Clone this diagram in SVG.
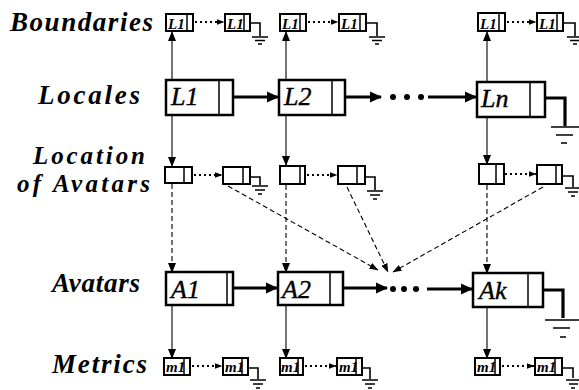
<svg xmlns="http://www.w3.org/2000/svg" width="579" height="390" viewBox="0 0 579 390">
  <style>
    .label { font-family: "Liberation Serif", "Times New Roman", serif; font-style: italic; font-weight: bold; font-size: 27px; fill: #000; }
    .label2 { font-size: 25px; }
    .big { fill: #fff; stroke: #000; stroke-width: 2.5; }
    .small { fill: #fff; stroke: #000; stroke-width: 2; }
    .div { stroke: #000; stroke-width: 1.5; fill: none; }
    .bigtxt { font-family: "Liberation Serif", "Times New Roman", serif; font-style: italic; font-size: 26px; fill: #000; stroke: #000; stroke-width: 0.4; }
    .smtxt { font-family: "Liberation Serif", "Times New Roman", serif; font-style: italic; font-weight: bold; font-size: 15px; fill: #000; }
    .thin { stroke: #000; stroke-width: 1.1; fill: none; }
    .thick { stroke: #000; stroke-width: 3.2; fill: none; }
    .dotted { stroke: #000; stroke-width: 2; fill: none; stroke-dasharray: 2 3; }
    .dashed { stroke: #000; stroke-width: 1.1; fill: none; stroke-dasharray: 5 3; }
    .gnd { stroke: #000; stroke-width: 1.6; fill: none; }
    .dot { fill: #000; }
  </style>
  <defs>
    <marker id="headThin" markerUnits="userSpaceOnUse" markerWidth="10" markerHeight="10" viewBox="0 0 10 10" refX="9" refY="5" orient="auto">
      <path d="M0,1 L10,5 L0,9 Z" fill="#000"/>
    </marker>
    <marker id="headThick" markerUnits="userSpaceOnUse" markerWidth="12" markerHeight="12" viewBox="0 0 12 12" refX="11" refY="6" orient="auto">
      <path d="M0,0.5 L12,6 L0,11.5 Z" fill="#000"/>
    </marker>
    <marker id="headSmall" markerUnits="userSpaceOnUse" markerWidth="8" markerHeight="8" viewBox="0 0 8 8" refX="7.5" refY="4" orient="auto">
      <path d="M0,1 L8,4 L0,7 Z" fill="#000"/>
    </marker>
    <marker id="headDash" markerUnits="userSpaceOnUse" markerWidth="9" markerHeight="9" viewBox="0 0 9 9" refX="8.5" refY="4.5" orient="auto">
      <path d="M0,1.2 L9,4.5 L0,7.8 Z" fill="#000"/>
    </marker>
  </defs>

  <!-- row labels -->
  <g id="labels">
    <text class="label" x="10" y="31" textLength="143">Boundaries</text>
    <text class="label" x="38" y="104" textLength="102">Locales</text>
    <text class="label label2" x="33" y="164" textLength="112">Location</text>
    <text class="label label2" x="17" y="192" textLength="133">of Avatars</text>
    <text class="label" x="52" y="292" textLength="88">Avatars</text>
    <text class="label" x="52" y="373" textLength="95">Metrics</text>
  </g>

  <!-- connectors -->
  <g id="connectors">
    <!-- locales up to boundaries -->
    <line class="thin" x1="172" y1="80" x2="172" y2="32" marker-end="url(#headThin)"/>
    <line class="thin" x1="286" y1="80" x2="286" y2="32" marker-end="url(#headThin)"/>
    <line class="thin" x1="487" y1="81" x2="487" y2="32" marker-end="url(#headThin)"/>
    <!-- locales down to avatar locations -->
    <line class="thin" x1="172" y1="115" x2="172" y2="166" marker-end="url(#headThin)"/>
    <line class="thin" x1="286" y1="115" x2="286" y2="165" marker-end="url(#headThin)"/>
    <line class="thin" x1="487" y1="117" x2="487" y2="164" marker-end="url(#headThin)"/>
    <!-- avatar locations down to avatars -->
    <line class="dashed" x1="172" y1="184" x2="172" y2="272" marker-end="url(#headThin)"/>
    <line class="dashed" x1="286" y1="185" x2="286" y2="272" marker-end="url(#headThin)"/>
    <line class="dashed" x1="487" y1="185" x2="487" y2="273" marker-end="url(#headThin)"/>
    <!-- location entries pointing at the avatar list -->
    <line class="dashed" x1="228" y1="186" x2="378" y2="270" marker-end="url(#headDash)"/>
    <line class="dashed" x1="347" y1="187" x2="388" y2="272" marker-end="url(#headDash)"/>
    <line class="dashed" x1="543" y1="187" x2="393" y2="272" marker-end="url(#headDash)"/>
    <!-- avatars down to metrics -->
    <line class="thin" x1="172" y1="306" x2="172" y2="358" marker-end="url(#headThin)"/>
    <line class="thin" x1="286" y1="306" x2="286" y2="358" marker-end="url(#headThin)"/>
    <line class="thin" x1="487" y1="308" x2="487" y2="358" marker-end="url(#headThin)"/>

    <!-- locale list links -->
    <circle class="dot" cx="227" cy="97" r="2"/>
    <line class="thick" x1="227" y1="97" x2="278" y2="97" marker-end="url(#headThick)"/>
    <circle class="dot" cx="339" cy="97" r="2"/>
    <line class="thick" x1="339" y1="97" x2="381" y2="97" marker-end="url(#headThick)"/>
    <circle class="dot" cx="393" cy="97" r="3"/>
    <circle class="dot" cx="407" cy="97" r="3"/>
    <circle class="dot" cx="421" cy="97" r="3"/>
    <line class="thick" x1="428" y1="97" x2="476" y2="97" marker-end="url(#headThick)"/>
    <circle class="dot" cx="537" cy="98" r="2"/>
    <path class="thick" d="M537,98 H565 V126" stroke-width="2.6"/>

    <!-- avatar list links -->
    <circle class="dot" cx="231" cy="288" r="2"/>
    <line class="thick" x1="231" y1="288" x2="277" y2="288" marker-end="url(#headThick)"/>
    <circle class="dot" cx="337" cy="288" r="2"/>
    <line class="thick" x1="337" y1="288" x2="387" y2="288" marker-end="url(#headThick)"/>
    <circle class="dot" cx="393" cy="289" r="3"/>
    <circle class="dot" cx="404" cy="289" r="3"/>
    <circle class="dot" cx="416" cy="289" r="3"/>
    <line class="thick" x1="427" y1="289" x2="472" y2="289" marker-end="url(#headThick)"/>
    <circle class="dot" cx="535" cy="290" r="2"/>
    <path class="thick" d="M535,290 H563 V318" stroke-width="2.6"/>

    <!-- boundary sublists -->
    <line class="dotted" x1="195" y1="22" x2="224" y2="22" marker-end="url(#headSmall)"/>
    <line class="dotted" x1="308" y1="22" x2="338" y2="22" marker-end="url(#headSmall)"/>
    <line class="dotted" x1="507" y1="22" x2="536" y2="22" marker-end="url(#headSmall)"/>
    <!-- location sublists -->
    <line class="dotted" x1="194" y1="175" x2="222" y2="175" marker-end="url(#headSmall)"/>
    <line class="dotted" x1="307" y1="175" x2="337" y2="175" marker-end="url(#headSmall)"/>
    <line class="dotted" x1="505" y1="174" x2="536" y2="174" marker-end="url(#headSmall)"/>
    <!-- metric sublists -->
    <line class="dotted" x1="192" y1="366" x2="222" y2="366" marker-end="url(#headSmall)"/>
    <line class="dotted" x1="305" y1="366" x2="336" y2="366" marker-end="url(#headSmall)"/>
    <line class="dotted" x1="502" y1="366" x2="534" y2="366" marker-end="url(#headSmall)"/>

    <!-- small null terminators -->
    <path class="gnd" d="M246,23 H260 V36 M252,37 H268 M255,40.5 H265 M258,44 H262"/>
    <path class="gnd" d="M362,23 H377 V36 M369,37 H385 M372,40.5 H382 M375,44 H379"/>
    <path class="gnd" d="M559,23 H575 V36 M567,37 H579 M570,40.5 H579 M573,44 H577"/>
    <path class="gnd" d="M246,177 H260 V185 M252,186 H268 M255,190 H265 M258,194 H262"/>
    <path class="gnd" d="M360,177 H375 V190 M367,191 H383 M370,195 H380 M373,199 H377"/>
    <path class="gnd" d="M559,176 H573 V187 M565,188 H579 M568,192 H578 M571,196 H575"/>
    <path class="gnd" d="M243,368 H258 V379 M250,380 H266 M253,384 H263 M256,388 H260"/>
    <path class="gnd" d="M357,368 H370 V379 M362,380 H378 M365,384 H375 M368,388 H372"/>
    <path class="gnd" d="M558,368 H573 V378 M566,380 H579 M569,384 H578 M571,388 H575"/>
    <!-- large null terminators -->
    <path class="gnd" stroke-width="2.2" d="M551,127 H579 M556,135 H573 M561,143 H567"/>
    <path class="gnd" stroke-width="2.2" d="M545,320 H579 M553,328 H570 M560,337 H566"/>
  </g>

  <!-- boundary nodes -->
  <g id="boundary-1">
    <rect class="small" x="166" y="14" width="27" height="17"/>
    <line class="div" x1="187" y1="14" x2="187" y2="31"/>
    <text class="smtxt" x="168" y="29">L1</text>
    <rect class="small" x="225" y="14" width="25" height="17"/>
    <line class="div" x1="244" y1="14" x2="244" y2="31"/>
    <text class="smtxt" x="227" y="29">L1</text>
  </g>
  <g id="boundary-2">
    <rect class="small" x="280" y="14" width="26" height="17"/>
    <line class="div" x1="300" y1="14" x2="300" y2="31"/>
    <text class="smtxt" x="282" y="29">L1</text>
    <rect class="small" x="339" y="14" width="27" height="17"/>
    <line class="div" x1="360" y1="14" x2="360" y2="31"/>
    <text class="smtxt" x="341" y="29">L1</text>
  </g>
  <g id="boundary-n">
    <rect class="small" x="478" y="13" width="27" height="18"/>
    <line class="div" x1="499" y1="13" x2="499" y2="31"/>
    <text class="smtxt" x="480" y="29">L1</text>
    <rect class="small" x="537" y="13" width="26" height="18"/>
    <line class="div" x1="557" y1="13" x2="557" y2="31"/>
    <text class="smtxt" x="539" y="29">L1</text>
  </g>

  <!-- locale nodes -->
  <g id="locale-1">
    <rect class="big" x="166" y="80" width="67" height="35"/>
    <line class="div" x1="219" y1="80" x2="219" y2="115"/>
    <text class="bigtxt" x="171" y="105">L1</text>
  </g>
  <g id="locale-2">
    <rect class="big" x="279" y="80" width="66" height="35"/>
    <line class="div" x1="332" y1="80" x2="332" y2="115"/>
    <text class="bigtxt" x="284" y="105">L2</text>
  </g>
  <g id="locale-n">
    <rect class="big" x="477" y="82" width="68" height="35"/>
    <line class="div" x1="530" y1="82" x2="530" y2="117"/>
    <text class="bigtxt" x="481" y="107">Ln</text>
  </g>

  <!-- avatar location nodes -->
  <g id="location-1">
    <rect class="small" x="165" y="167" width="27" height="16"/>
    <line class="div" x1="184" y1="167" x2="184" y2="183"/>
    <rect class="small" x="223" y="167" width="27" height="17"/>
    <line class="div" x1="243" y1="167" x2="243" y2="184"/>
  </g>
  <g id="location-2">
    <rect class="small" x="280" y="166" width="25" height="18"/>
    <line class="div" x1="300" y1="166" x2="300" y2="184"/>
    <rect class="small" x="338" y="166" width="27" height="18"/>
    <line class="div" x1="357" y1="166" x2="357" y2="184"/>
  </g>
  <g id="location-n">
    <rect class="small" x="479" y="164" width="25" height="20"/>
    <line class="div" x1="496" y1="164" x2="496" y2="184"/>
    <rect class="small" x="537" y="165" width="25" height="19"/>
    <line class="div" x1="556" y1="165" x2="556" y2="184"/>
  </g>

  <!-- avatar nodes -->
  <g id="avatar-1">
    <rect class="big" x="166" y="272" width="67" height="33"/>
    <line class="div" x1="227" y1="272" x2="227" y2="305"/>
    <text class="bigtxt" x="171" y="298">A1</text>
  </g>
  <g id="avatar-2">
    <rect class="big" x="278" y="272" width="65" height="33"/>
    <line class="div" x1="330" y1="272" x2="330" y2="305"/>
    <text class="bigtxt" x="282" y="298">A2</text>
  </g>
  <g id="avatar-k">
    <rect class="big" x="473" y="273" width="70" height="34"/>
    <line class="div" x1="528" y1="273" x2="528" y2="307"/>
    <text class="bigtxt" x="479" y="299">Ak</text>
  </g>

  <!-- metric nodes -->
  <g id="metrics-1">
    <rect class="small" x="164" y="358" width="26" height="17"/>
    <line class="div" x1="184" y1="358" x2="184" y2="375"/>
    <text class="smtxt" x="166" y="372">m1</text>
    <rect class="small" x="223" y="358" width="25" height="17"/>
    <line class="div" x1="242" y1="358" x2="242" y2="375"/>
    <text class="smtxt" x="225" y="372">m1</text>
  </g>
  <g id="metrics-2">
    <rect class="small" x="280" y="358" width="23" height="17"/>
    <line class="div" x1="298" y1="358" x2="298" y2="375"/>
    <text class="smtxt" x="281" y="372">m1</text>
    <rect class="small" x="337" y="358" width="25" height="17"/>
    <line class="div" x1="356" y1="358" x2="356" y2="375"/>
    <text class="smtxt" x="339" y="372">m1</text>
  </g>
  <g id="metrics-k">
    <rect class="small" x="475" y="358" width="25" height="17"/>
    <line class="div" x1="495" y1="358" x2="495" y2="375"/>
    <text class="smtxt" x="477" y="372">m1</text>
    <rect class="small" x="535" y="358" width="27" height="17"/>
    <line class="div" x1="555" y1="358" x2="555" y2="375"/>
    <text class="smtxt" x="537" y="372">m1</text>
  </g>
</svg>
